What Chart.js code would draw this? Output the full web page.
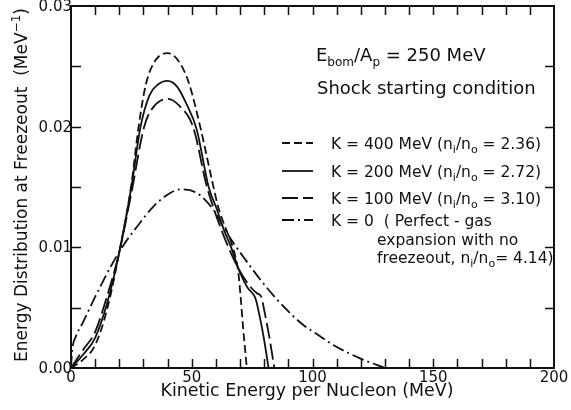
<!DOCTYPE html>
<html>
<head>
<meta charset="utf-8">
<script src="https://cdn.jsdelivr.net/npm/chart.js@4.4.1/dist/chart.umd.min.js"></script>
<style>
  html, body { margin: 0; padding: 0; background: #fff; }
  canvas { display: block; }
</style>
</head>
<body>
<canvas id="freezeoutChart" width="571" height="410"></canvas>
<script>
// Energy distribution at freezeout (x in MeV, y in MeV^-1)
const k400X = [0, 5, 10, 15, 20, 25, 28, 31, 35, 40, 45, 49, 53.5, 59, 61, 64, 67, 69.3, 70.2, 71.2, 72.8];
const k400Y = [0, 0.0007, 0.0019, 0.0049, 0.0096, 0.0152, 0.0200, 0.0235, 0.0255, 0.0261, 0.0253, 0.0235, 0.0200, 0.0150, 0.0133, 0.0116, 0.0100, 0.0079, 0.0060, 0.0035, 0];

const k200X = [0, 5, 10, 15, 20, 25, 28.8, 32.5, 36, 40, 44, 48, 52, 57, 60.5, 63, 66.3, 70, 73, 75.5, 76.5, 78, 80, 81.8];
const k200Y = [0, 0.0011, 0.0025, 0.0054, 0.0096, 0.0150, 0.0200, 0.0226, 0.0235, 0.0238, 0.0233, 0.0218, 0.0198, 0.0150, 0.0131, 0.0116, 0.0100, 0.0079, 0.0067, 0.0061, 0.0057, 0.0044, 0.0023, 0];

const k100X = [0, 5, 10, 15, 20, 25, 30.3, 34, 40, 45, 50.5, 56.3, 59.3, 62, 65.2, 70, 74, 77, 78.8, 80, 82, 84.2];
const k100Y = [0, 0.0015, 0.0030, 0.0060, 0.0096, 0.0145, 0.0200, 0.0216, 0.0223, 0.0217, 0.0200, 0.0150, 0.0131, 0.0116, 0.0100, 0.0080, 0.0068, 0.0062, 0.0059, 0.0048, 0.0027, 0];

const k0X = [0, 0.5, 2, 5, 10, 17, 21.8, 27.3, 34.2, 41.1, 45.2, 52.1, 59, 64.5, 71.4, 79.7, 88, 96.2, 102.4, 108.6, 119.7, 130];
const k0Y = [0, 0.0015, 0.0026, 0.0038, 0.0059, 0.0086, 0.0102, 0.0117, 0.0134, 0.0145, 0.0148, 0.0145, 0.0131, 0.0112, 0.0092, 0.0070, 0.0051, 0.00356, 0.00273, 0.0019, 0.0008, 0];

const xTickValues = [0, 50, 100, 150, 200];
const xTickLabels = ["0", "50", "100", "150", "200"];
const yTickValues = [0, 0.01, 0.02, 0.03];
const yTickLabels = ["0.00", "0.01", "0.02", "0.03"];

const seriesNames = ["K = 400 MeV", "K = 200 MeV", "K = 100 MeV", "K = 0"];
const densityRatios = ["2.36", "2.72", "3.10", "4.14"];

const FONT = '"DejaVu Sans", sans-serif';
const INK = "#111";

function toPoints(xs, ys) {
    return xs.map((x, i) => ({ x: x, y: ys[i] }));
}

// parts: [text, shift] with shift 0 normal, -1 subscript, 1 superscript
function richWidth(ctx, parts, size) {
    let w = 0;
    parts.forEach(([t, s]) => {
        ctx.font = `${s ? Math.round(size * 0.68) : size}px ${FONT}`;
        w += ctx.measureText(t).width;
    });
    return w;
}

function drawRich(ctx, parts, x, y, size, align) {
    if (align === "center") x -= richWidth(ctx, parts, size) / 2;
    ctx.textAlign = "left";
    ctx.textBaseline = "alphabetic";
    parts.forEach(([t, s]) => {
        let fs = s ? Math.round(size * 0.68) : size;
        ctx.font = `${fs}px ${FONT}`;
        let dy = s === -1 ? size * 0.28 : (s === 1 ? -size * 0.42 : 0);
        ctx.fillText(t, x, y + dy);
        x += ctx.measureText(t).width;
    });
}

const dashStyles = [[8, 4], [], [16, 5], [12, 4, 2, 4]];

const framePlugin = {
    id: "frame",
    beforeDraw(chart) {
        const c = chart.ctx;
        c.save();
        c.fillStyle = "#fff";
        c.fillRect(0, 0, chart.width, chart.height);
        c.restore();
    },
    afterDraw(chart) {
        const c = chart.ctx;
        const area = chart.chartArea;
        const xs = chart.scales.x, ys = chart.scales.y;
        c.save();
        c.strokeStyle = INK;
        c.fillStyle = INK;
        c.setLineDash([]);

        // box
        c.lineWidth = 2;
        c.strokeRect(area.left, area.top, area.right - area.left, area.bottom - area.top);

        // inward ticks on all four sides
        c.lineWidth = 1.5;
        for (let i = 1; i < 20; i++) {
            let px = Math.round(xs.getPixelForValue(i * 10)) + 0.5;
            c.beginPath();
            c.moveTo(px, area.bottom); c.lineTo(px, area.bottom - 9);
            c.moveTo(px, area.top); c.lineTo(px, area.top + 9);
            c.stroke();
        }
        for (let i = 1; i < 6; i++) {
            let py = Math.round(ys.getPixelForValue(i * 0.005)) + 0.5;
            c.beginPath();
            c.moveTo(area.left, py); c.lineTo(area.left + 10, py);
            c.moveTo(area.right, py); c.lineTo(area.right - 9, py);
            c.stroke();
        }

        // tick labels
        c.font = `15px ${FONT}`;
        c.textAlign = "center";
        c.textBaseline = "top";
        xTickValues.forEach((v, i) => c.fillText(xTickLabels[i], xs.getPixelForValue(v), area.bottom + 3));
        c.textAlign = "right";
        c.textBaseline = "middle";
        yTickValues.forEach((v, i) => c.fillText(yTickLabels[i], area.left + 1, ys.getPixelForValue(v) + 1));

        // axis titles
        c.font = `17.4px ${FONT}`;
        c.textAlign = "center";
        c.textBaseline = "middle";
        c.fillText("Kinetic Energy per Nucleon (MeV)", 307, 391);

        c.save();
        c.translate(21, 185);
        c.rotate(-Math.PI / 2);
        drawRich(c, [["Energy Distribution at Freezeout  (MeV", 0], ["\u22121", 1], [")", 0]], 0, 6, 17, "center");
        c.restore();

        // annotation
        drawRich(c, [["E", 0], ["bom", -1], ["/A", 0], ["p", -1], [" = 250 MeV", 0]], 316, 61, 18, "left");
        drawRich(c, [["Shock starting condition", 0]], 317, 94, 18, "left");

        // legend
        const rows = [143, 171, 198, 220];
        chart.data.datasets.forEach((ds, i) => {
            c.lineWidth = 1.8;
            c.setLineDash(dashStyles[i]);
            c.beginPath();
            c.moveTo(282, rows[i]);
            c.lineTo(313, rows[i]);
            c.stroke();
            c.setLineDash([]);
            if (i < 3) {
                drawRich(c, [[seriesNames[i] + " (n", 0], ["i", -1], ["/n", 0], ["o", -1], [" = " + densityRatios[i] + ")", 0]], 331, rows[i] + 6, 15.5, "left");
            } else {
                drawRich(c, [[seriesNames[i] + "  ( Perfect - gas", 0]], 331, rows[i] + 6, 15.5, "left");
                drawRich(c, [["expansion with no", 0]], 377, rows[i] + 25, 15.5, "left");
                drawRich(c, [["freezeout, n", 0], ["i", -1], ["/n", 0], ["o", -1], ["= " + densityRatios[i] + ")", 0]], 377, rows[i] + 43, 15.5, "left");
            }
        });
        c.restore();
    }
};

const seriesX = [k400X, k200X, k100X, k0X];
const seriesY = [k400Y, k200Y, k100Y, k0Y];

const ctx = document.getElementById("freezeoutChart").getContext("2d");
new Chart(ctx, {
    type: "line",
    data: {
        datasets: seriesNames.map((name, i) => ({
            label: name,
            data: toPoints(seriesX[i], seriesY[i]),
            borderColor: INK,
            borderWidth: 1.8,
            borderDash: dashStyles[i],
            pointRadius: 0,
            fill: false,
            cubicInterpolationMode: "monotone"
        }))
    },
    options: {
        responsive: false,
        devicePixelRatio: 1,
        animation: false,
        layout: { padding: { left: 71, right: 17, top: 6, bottom: 42 } },
        plugins: { legend: { display: false }, tooltip: { enabled: false } },
        scales: {
            x: { type: "linear", min: 0, max: 200, display: false },
            y: { type: "linear", min: 0, max: 0.03, display: false }
        }
    },
    plugins: [framePlugin]
});
</script>
</body>
</html>
